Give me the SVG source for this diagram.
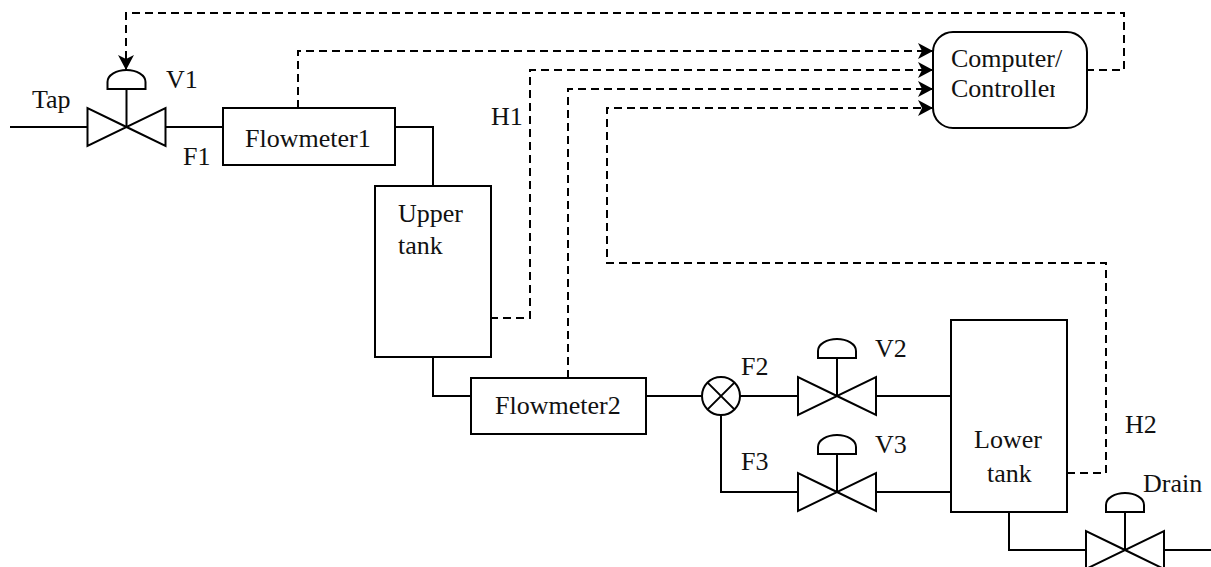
<svg xmlns="http://www.w3.org/2000/svg" width="1211" height="567" viewBox="0 0 1211 567">
<style>
.s{fill:none;stroke:#000;stroke-width:2}
.b{fill:#fff;stroke:#000;stroke-width:2}
.d{fill:none;stroke:#000;stroke-width:2;stroke-dasharray:8 5}
text{font-family:"Liberation Serif","Times New Roman",serif;font-size:26px;fill:#111}
</style>
<defs>
<marker id="a" markerUnits="userSpaceOnUse" markerWidth="16" markerHeight="18" refX="15" refY="8" orient="auto"><path d="M0 0L15 8L0 16L4 8Z" fill="#000"/></marker>
<clipPath id="c"><rect x="945" y="70" width="110" height="40"/></clipPath>
<g id="v"><path class="s" d="M0 0L-39-19V19L39-19V19Z"/><path class="s" d="M0 0V-38M-19-38H19V-45C19-52 10-57 0-57S-19-52-19-45Z"/></g>
</defs>
<g id="connectors">
<path class="s" d="M10 127H87M165 127H223M395 127H433V186M433 357V396H471M646 396H702M740 396H799M875 396H951M721 415V492H799M875 492H951M1009 512V550H1087M1163 550H1211"/>
<path class="d" d="M298 108V51H933" marker-end="url(#a)"/>
<path class="d" d="M490 318H530V70H933" marker-end="url(#a)"/>
<path class="d" d="M568 378V89H933" marker-end="url(#a)"/>
<path class="d" d="M1067 473H1106V263H607V108H933" marker-end="url(#a)"/>
<path class="d" d="M1086 70H1124V13H126V70" marker-end="url(#a)"/>
</g>
<g id="valve-v1"><use href="#v" x="126.500" y="127"/><text x="166" y="88">V1</text></g>
<g id="tap"><text x="32" y="108">Tap</text></g>
<g id="f1"><text x="183" y="165">F1</text></g>
<g id="flowmeter1"><rect class="b" x="223" y="108" width="172" height="57"/><text x="245" y="147">Flowmeter1</text></g>
<g id="upper-tank"><rect class="b" x="375" y="186" width="116" height="171"/><text x="398" y="222">Upper</text><text x="398" y="254">tank</text></g>
<g id="h1"><text x="491" y="125">H1</text></g>
<g id="flowmeter2"><rect class="b" x="471" y="378" width="175" height="56"/><text x="495" y="414">Flowmeter2</text></g>
<g id="junction"><circle class="b" cx="721" cy="396" r="19"/><path class="s" d="M707.600 382.600L734.400 409.400M734.400 382.600L707.600 409.400"/></g>
<g id="f2"><text x="741" y="375">F2</text></g>
<g id="f3"><text x="741" y="470">F3</text></g>
<g id="valve-v2"><use href="#v" x="837" y="396"/><text x="875" y="357">V2</text></g>
<g id="valve-v3"><use href="#v" x="837" y="492"/><text x="875" y="453">V3</text></g>
<g id="lower-tank"><rect class="b" x="951" y="320" width="116" height="192"/><text x="974" y="448">Lower</text><text x="987" y="482">tank</text></g>
<g id="h2"><text x="1125" y="433">H2</text></g>
<g id="valve-drain"><use href="#v" x="1125" y="550"/><text x="1143" y="492">Drain</text></g>
<g id="controller"><rect class="b" x="933" y="32" width="154" height="96" rx="20"/><text x="951" y="67">Computer/</text><text x="951" y="97" clip-path="url(#c)">Controller</text></g>
</svg>
